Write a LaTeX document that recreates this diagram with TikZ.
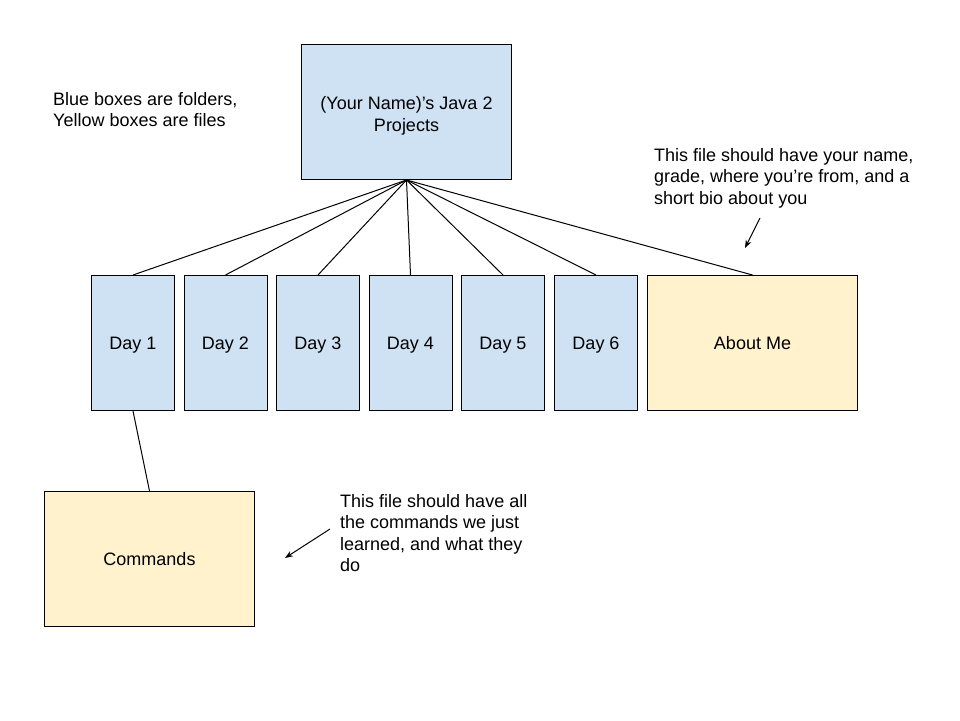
\documentclass[tikz,border=0pt]{standalone}
\usepackage{fontspec}
\setmainfont{Liberation Sans}
\usetikzlibrary{arrows.meta}
\definecolor{folderblue}{HTML}{CFE2F3}
\definecolor{fileyellow}{HTML}{FFF2CC}
\tikzset{
  box/.style={draw=black, line width=1pt, inner sep=0pt, anchor=north west, align=center,
    font=\fontsize{18}{21.5}\selectfont},
  onebox/.style={box, text height=12.9pt, text depth=0pt},
  folder/.style={onebox, fill=folderblue},
  filebox/.style={onebox, fill=fileyellow},
  note/.style={inner sep=0pt, anchor=north west, align=left, font=\fontsize{18}{21.5}\selectfont},
  link/.style={draw=black, line width=1pt},
  pointer/.style={draw=black, line width=1pt, -{Stealth[length=8pt,width=6pt]}}
}
\begin{document}
\begin{tikzpicture}[x=1pt,y=-1pt]
\useasboundingbox (0,0) rectangle (960,720);
\fill[white] (0,0) rectangle (960,720);

\node[box, fill=folderblue, minimum width=210pt, minimum height=135pt] (root) at (301,44)
  {\rule{0pt}{21pt}(Your Name)’s Java 2\\Projects};

\node[folder, minimum width=83pt, minimum height=135pt] (d1) at (91,275) {Day 1};
\node[folder, minimum width=83pt, minimum height=135pt] (d2) at (183.5,275) {Day 2};
\node[folder, minimum width=83pt, minimum height=135pt] (d3) at (276,275) {Day 3};
\node[folder, minimum width=83pt, minimum height=135pt] (d4) at (368.5,275) {Day 4};
\node[folder, minimum width=83pt, minimum height=135pt] (d5) at (461,275) {Day 5};
\node[folder, minimum width=83pt, minimum height=135pt] (d6) at (554,275) {Day 6};
\node[filebox, minimum width=210pt, minimum height=135pt] (about) at (647,275) {About Me};

\node[filebox, minimum width=210pt, minimum height=135pt] (cmd) at (44,491) {Commands};

\coordinate (hub) at (root.south);
\foreach \n in {d1,d2,d3,d4,d5,d6,about}{
  \draw[link] (hub) -- (\n.north);
}
\draw[link] (d1.south) -- (cmd.north);

\node[note] (legend) at (53,92) {Blue boxes are folders,\\Yellow boxes are files};
\node[note] (aboutnote) at (654,148) {This file should have your name,\\grade, where you’re from, and a\\short bio about you};
\node[note] (cmdnote) at (340,494) {This file should have all\\the commands we just\\learned, and what they\\do};

\coordinate (p1s) at (760,218);
\coordinate (p1e) at (745,248);
\coordinate (p2s) at (330,529);
\coordinate (p2e) at (285,558);
\draw[pointer] (p1s) -- (p1e);
\draw[pointer] (p2s) -- (p2e);
\end{tikzpicture}
\end{document}
